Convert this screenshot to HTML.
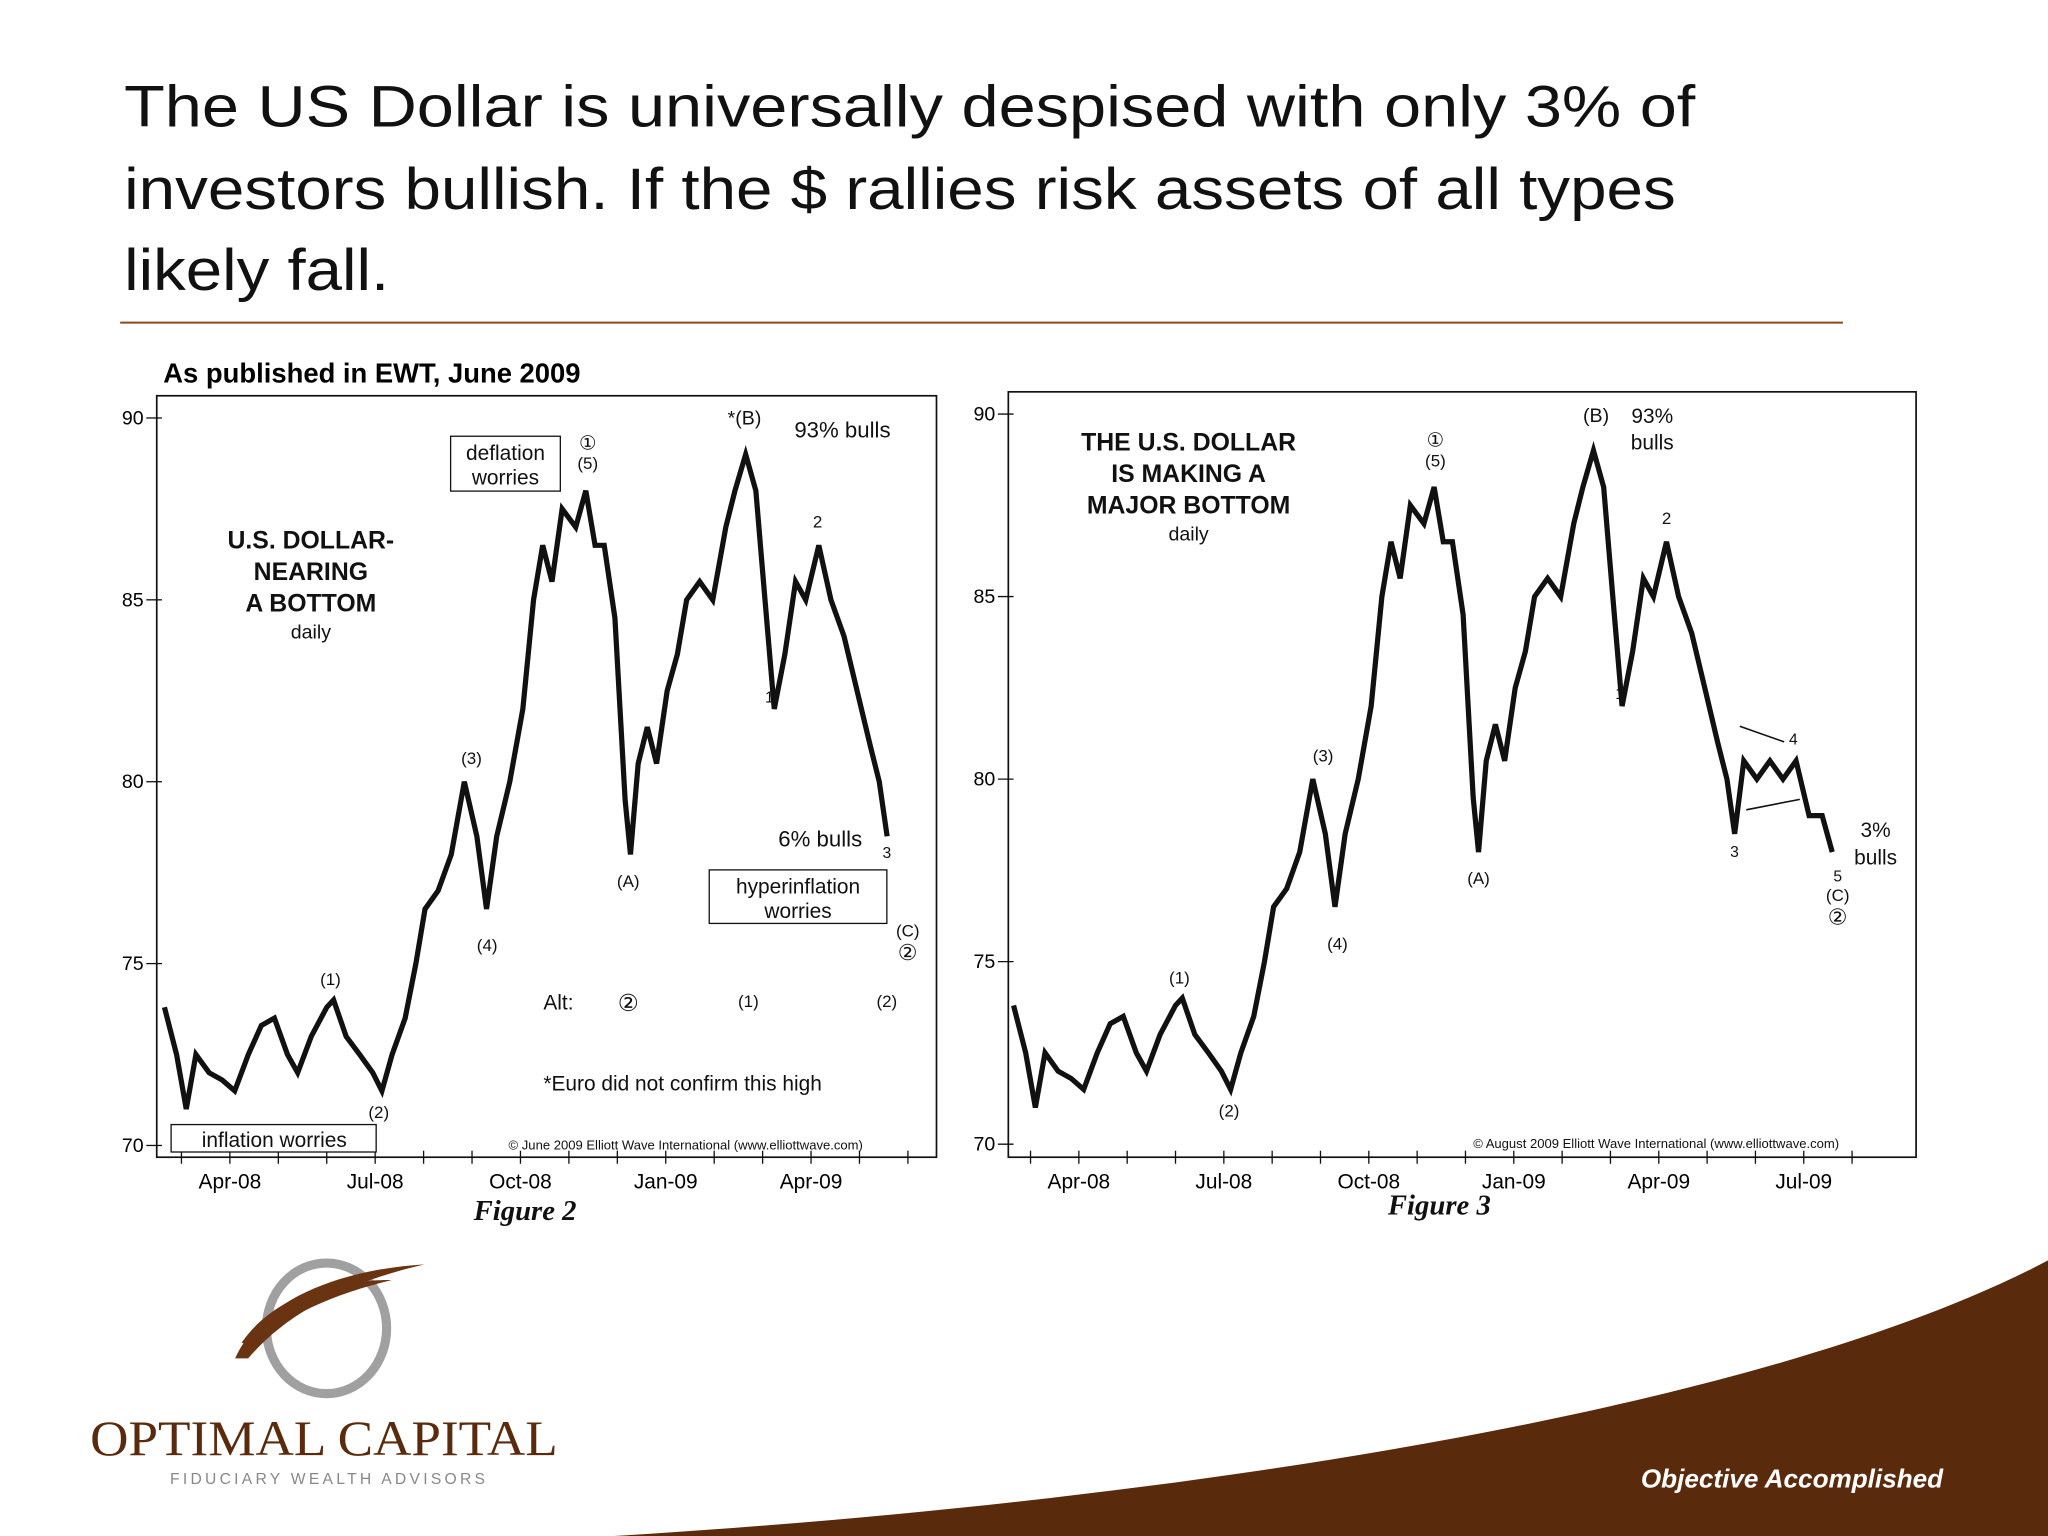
<!DOCTYPE html>
<html><head><meta charset="utf-8"><title>US Dollar</title>
<style>
html,body{margin:0;padding:0;background:#fff;width:2048px;height:1536px;overflow:hidden}
svg{display:block}
text{font-family:"Liberation Sans",sans-serif}
.serif{font-family:"Liberation Serif",serif}
</style></head>
<body>
<svg id="slide" width="2048" height="1536" viewBox="0 0 1568 1176" xmlns="http://www.w3.org/2000/svg">
<g font-size="45" fill="#111">
<text x="95" y="97" textLength="1203" lengthAdjust="spacingAndGlyphs">The US Dollar is universally despised with only 3% of</text>
<text x="95" y="160" textLength="1188" lengthAdjust="spacingAndGlyphs">investors bullish. If the $ rallies risk assets of all types</text>
<text x="95" y="222" textLength="203" lengthAdjust="spacingAndGlyphs">likely fall.</text>
</g>
<line x1="92" y1="247" x2="1411" y2="247" stroke="#8a4a1c" stroke-width="1.5"/>
<text x="125" y="293" font-size="21" font-weight="bold">As published in EWT, June 2009</text>

<g id="chart1"></g>
<g id="chart2"></g>

<g font-size="15" fill="#111">
<text x="238" y="420" font-size="19" font-weight="bold" text-anchor="middle">U.S. DOLLAR-</text>
<text x="238" y="444" font-size="19" font-weight="bold" text-anchor="middle">NEARING</text>
<text x="238" y="468" font-size="19" font-weight="bold" text-anchor="middle">A BOTTOM</text>
<text x="238" y="489" text-anchor="middle">daily</text>
<rect x="345" y="334" width="84" height="42" fill="#fff" stroke="#111"/>
<text x="387" y="352" text-anchor="middle" font-size="16">deflation</text>
<text x="387" y="371" text-anchor="middle" font-size="16">worries</text>
<text x="450" y="344" text-anchor="middle">①</text><text x="450" y="359" text-anchor="middle" font-size="13">(5)</text>
<text x="570" y="325" text-anchor="middle">*(B)</text>
<text x="645" y="335" text-anchor="middle" font-size="17">93% bulls</text>
<text x="626" y="404" text-anchor="middle" font-size="13">2</text>
<text x="589" y="538" text-anchor="middle" font-size="12">1</text>
<text x="361" y="585" text-anchor="middle" font-size="13">(3)</text>
<text x="373" y="728" text-anchor="middle" font-size="13">(4)</text>
<text x="481" y="679" text-anchor="middle" font-size="13">(A)</text>
<text x="628" y="648" text-anchor="middle" font-size="17">6% bulls</text>
<text x="679" y="657" text-anchor="middle" font-size="12">3</text>
<rect x="543" y="666" width="136" height="41" fill="#fff" stroke="#111"/>
<text x="611" y="684" text-anchor="middle" font-size="16">hyperinflation</text>
<text x="611" y="703" text-anchor="middle" font-size="16">worries</text>
<text x="695" y="717" text-anchor="middle" font-size="13">(C)</text>
<text x="695" y="735" text-anchor="middle" font-size="17">②</text>
<text x="253" y="754" text-anchor="middle" font-size="13">(1)</text>
<text x="290" y="856" text-anchor="middle" font-size="13">(2)</text>
<text x="416" y="773" font-size="16">Alt:</text>
<text x="481" y="774" text-anchor="middle" font-size="18">②</text>
<text x="573" y="771" text-anchor="middle" font-size="13">(1)</text>
<text x="679" y="771" text-anchor="middle" font-size="13">(2)</text>
<text x="416" y="835" font-size="16">*Euro did not confirm this high</text>
<rect x="131" y="861" width="157" height="21" fill="#fff" stroke="#111"/>
<text x="210" y="878" text-anchor="middle" font-size="16">inflation worries</text>
<text x="525" y="880" text-anchor="middle" font-size="10">© June 2009 Elliott Wave International (www.elliottwave.com)</text>
<text x="402" y="934" text-anchor="middle" font-size="22" font-weight="bold" font-style="italic" style="font-family:'Liberation Serif',serif">Figure 2</text>
</g>

<g font-size="15" fill="#111">
<text x="910" y="345" font-size="19" font-weight="bold" text-anchor="middle">THE U.S. DOLLAR</text>
<text x="910" y="369" font-size="19" font-weight="bold" text-anchor="middle">IS MAKING A</text>
<text x="910" y="393" font-size="19" font-weight="bold" text-anchor="middle">MAJOR BOTTOM</text>
<text x="910" y="414" text-anchor="middle">daily</text>
<text x="1099" y="342" text-anchor="middle">①</text><text x="1099" y="357" text-anchor="middle" font-size="13">(5)</text>
<text x="1222" y="323" text-anchor="middle">(B)</text>
<text x="1265" y="324" text-anchor="middle" font-size="16">93%</text>
<text x="1265" y="344" text-anchor="middle" font-size="16">bulls</text>
<text x="1276" y="401" text-anchor="middle" font-size="13">2</text>
<text x="1240" y="535" text-anchor="middle" font-size="12">1</text>
<text x="1013" y="583" text-anchor="middle" font-size="13">(3)</text>
<text x="1024" y="727" text-anchor="middle" font-size="13">(4)</text>
<text x="1132" y="677" text-anchor="middle" font-size="13">(A)</text>
<text x="903" y="753" text-anchor="middle" font-size="13">(1)</text>
<text x="941" y="855" text-anchor="middle" font-size="13">(2)</text>
<text x="1328" y="656" text-anchor="middle" font-size="12">3</text>
<text x="1373" y="570" text-anchor="middle" font-size="12">4</text>
<line x1="1332" y1="556" x2="1366" y2="568" stroke="#111" stroke-width="1.2"/>
<line x1="1337" y1="620" x2="1378" y2="612" stroke="#111" stroke-width="1.2"/>
<text x="1436" y="641" text-anchor="middle" font-size="16">3%</text>
<text x="1436" y="662" text-anchor="middle" font-size="16">bulls</text>
<text x="1407" y="675" text-anchor="middle" font-size="12">5</text>
<text x="1407" y="690" text-anchor="middle" font-size="13">(C)</text>
<text x="1407" y="708" text-anchor="middle" font-size="17">②</text>
<text x="1268" y="879" text-anchor="middle" font-size="10">© August 2009 Elliott Wave International (www.elliottwave.com)</text>
<text x="1102" y="930" text-anchor="middle" font-size="22" font-weight="bold" font-style="italic" style="font-family:'Liberation Serif',serif">Figure 3</text>
</g>

<path d="M470 1176 C900 1150 1350 1080 1568 965 L1568 1176 Z" fill="#5a2a0c"/>
<text x="1372" y="1139" text-anchor="middle" font-size="20" font-weight="bold" font-style="italic" fill="#fff">Objective Accomplished</text>
<g>
<ellipse cx="250" cy="1017" rx="46" ry="50" fill="none" stroke="#a0a0a0" stroke-width="7"/>
<path d="M180 1040 C200 995 260 972 325 968 C265 982 220 1005 190 1040 Z" fill="#6a3412"/>
<path d="M185 1028 C210 992 255 980 300 980 C250 992 215 1010 195 1030 Z" fill="#6a3412"/>
<text x="248" y="1114" text-anchor="middle" font-size="38" fill="#5a2a0c" style="font-family:'Liberation Serif',serif" textLength="358" lengthAdjust="spacingAndGlyphs">OPTIMAL CAPITAL</text>
<text x="252" y="1136" text-anchor="middle" font-size="12" fill="#888" letter-spacing="2.5">FIDUCIARY WEALTH ADVISORS</text>
</g>
</svg>
<script>
const months = [-1.35,-1.1,-0.9,-0.7,-0.43,-0.16,0.1,0.38,0.65,0.92,1.19,1.4,1.68,2.0,2.14,2.4,2.68,2.95,3.14,3.35,3.62,3.84,4.03,4.3,4.57,4.84,5.1,5.3,5.51,5.78,6.05,6.27,6.46,6.65,6.86,7.14,7.35,7.54,7.73,7.95,8.16,8.27,8.43,8.62,8.81,9.03,9.24,9.43,9.7,9.97,10.24,10.43,10.65,10.86,11.05,11.24,11.46,11.68,11.89,12.16,12.41,12.68,12.95,13.22,13.41,13.57,13.76,14.03,14.3,14.57,14.84,15.11,15.38,15.59];
const values = [73.8,72.5,71.0,72.5,72.0,71.8,71.5,72.5,73.3,73.5,72.5,72.0,73.0,73.8,74.0,73.0,72.5,72.0,71.5,72.5,73.5,75.0,76.5,77.0,78.0,80.0,78.5,76.5,78.5,80.0,82.0,85.0,86.5,85.5,87.5,87.0,88.0,86.5,86.5,84.5,79.5,78.0,80.5,81.5,80.5,82.5,83.5,85.0,85.5,85.0,87.0,88.0,89.0,88.0,85.0,82.0,83.5,85.5,85.0,86.5,85.0,84.0,82.5,81.0,80.0,78.5,80.5,80.0,80.5,80.0,80.5,79.0,79.0,78.0];
const yTicks = [70,75,80,85,90];
const xTickLabels = ["Apr-08","Jul-08","Oct-08","Jan-09","Apr-09","Jul-09"];
const xTickMonths = [0,3,6,9,12,15];
const NS="http://www.w3.org/2000/svg";
function mk(tag,attrs,parent){const e=document.createElementNS(NS,tag);for(const k in attrs)e.setAttribute(k,attrs[k]);parent.appendChild(e);return e;}
function draw(g,cfg){
  const xs=m=>cfg.x0+m*cfg.pxm;
  const ys=v=>cfg.y90+(90-v)*(cfg.y70-cfg.y90)/20;
  const frame=mk('rect',{x:cfg.l,y:cfg.t,width:cfg.r-cfg.l,height:cfg.b-cfg.t,fill:'none',stroke:'#111','stroke-width':1.3},g);
  
  
  yTicks.forEach(v=>{
    const tk=mk('line',{x1:cfg.l-8,x2:cfg.l+4,y1:ys(v),y2:ys(v),stroke:'#111'},g);
    
    
    const t=mk('text',{x:cfg.l-10,y:ys(v)+5,'text-anchor':'end','font-size':15},g);
    t.textContent=v;
    
    
  });
  for(let m=-1;m<=cfg.maxM;m++){
    const tk=mk('line',{x1:xs(m),x2:xs(m),y1:cfg.b-5,y2:cfg.b+5,stroke:'#111'},g);
    
    
  }
  xTickMonths.forEach((m,i)=>{
    if(m>cfg.maxM)return;
    const t=mk('text',{x:xs(m),y:cfg.b+24,'text-anchor':'middle','font-size':16},g);
    t.textContent=xTickLabels[i];
    
    
  });
  let d='';
  months.forEach((m,i)=>{if(m<=cfg.endM)d+=(d?'L':'M')+xs(m).toFixed(1)+' '+ys(values[i]).toFixed(1);});
  const p=mk('path',{d:d,fill:'none',stroke:'#111','stroke-width':4,'stroke-linejoin':'miter'},g);
  
  
}
draw(document.getElementById('chart1'),{l:120,r:717,t:303,b:886,x0:176,pxm:37.08,y90:320,y70:877,maxM:14,endM:13.6});
draw(document.getElementById('chart2'),{l:772,r:1467,t:300,b:886,x0:826,pxm:37,y90:317,y70:876,maxM:16,endM:16});
</script>
</body></html>
